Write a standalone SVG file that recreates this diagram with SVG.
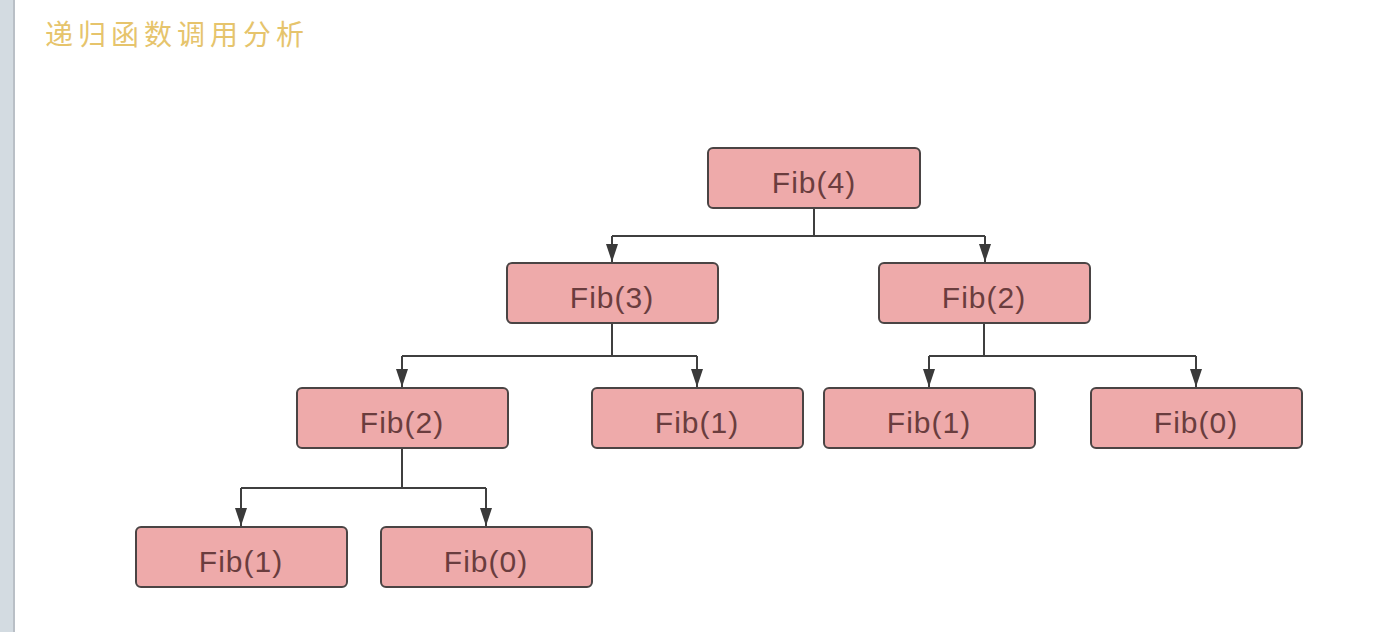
<svg xmlns="http://www.w3.org/2000/svg" width="1388" height="632" viewBox="0 0 1388 632">
<defs>
<marker id="arr" viewBox="0 0 18 12" refX="18" refY="6" markerWidth="18" markerHeight="12" markerUnits="userSpaceOnUse" orient="auto">
<path d="M0,0 L18,6 L0,12 Z" fill="#3a3a3a"/>
</marker>
</defs>
<style>
.box{fill:#eeaaaa;stroke:#4a4444;stroke-width:2}
.lbl{font-family:"Liberation Sans",Arial,sans-serif;font-size:30px;fill:#6a3d3e;text-anchor:middle;letter-spacing:1px}
.c{fill:none;stroke:#3f3f3f;stroke-width:2}
.title{font-family:"Noto Sans CJK SC",sans-serif;font-size:28px;fill:#e6c46c;letter-spacing:5px}
</style>
<rect width="1388" height="632" fill="#ffffff"/>
<rect x="0" y="0" width="14" height="632" fill="#d3dbe1"/>
<rect x="13" y="0" width="2" height="632" fill="#b9bfc6"/>
<text class="title" x="45" y="45">递归函数调用分析</text>
<g id="connectors">
<path class="c" d="M814,208 V236 M612,236 H985"/>
<path class="c" d="M612,236 V262" marker-end="url(#arr)"/>
<path class="c" d="M985,236 V262" marker-end="url(#arr)"/>
<path class="c" d="M612,323 V356 M402,356 H697"/>
<path class="c" d="M402,356 V387" marker-end="url(#arr)"/>
<path class="c" d="M697,356 V387" marker-end="url(#arr)"/>
<path class="c" d="M984,323 V356 M929,356 H1196"/>
<path class="c" d="M929,356 V387" marker-end="url(#arr)"/>
<path class="c" d="M1196,356 V387" marker-end="url(#arr)"/>
<path class="c" d="M402,448 V488 M241,488 H486"/>
<path class="c" d="M241,488 V526" marker-end="url(#arr)"/>
<path class="c" d="M486,488 V526" marker-end="url(#arr)"/>
</g>
<g id="fib4"><rect class="box" x="708" y="148" width="212" height="60" rx="5"/><text class="lbl" x="814" y="193">Fib(4)</text></g>
<g id="fib3"><rect class="box" x="507" y="263" width="211" height="60" rx="5"/><text class="lbl" x="612" y="308">Fib(3)</text></g>
<g id="fib2a"><rect class="box" x="879" y="263" width="211" height="60" rx="5"/><text class="lbl" x="984" y="308">Fib(2)</text></g>
<g id="fib2b"><rect class="box" x="297" y="388" width="211" height="60" rx="5"/><text class="lbl" x="402" y="433">Fib(2)</text></g>
<g id="fib1a"><rect class="box" x="592" y="388" width="211" height="60" rx="5"/><text class="lbl" x="697" y="433">Fib(1)</text></g>
<g id="fib1b"><rect class="box" x="824" y="388" width="211" height="60" rx="5"/><text class="lbl" x="929" y="433">Fib(1)</text></g>
<g id="fib0a"><rect class="box" x="1091" y="388" width="211" height="60" rx="5"/><text class="lbl" x="1196" y="433">Fib(0)</text></g>
<g id="fib1c"><rect class="box" x="136" y="527" width="211" height="60" rx="5"/><text class="lbl" x="241" y="572">Fib(1)</text></g>
<g id="fib0b"><rect class="box" x="381" y="527" width="211" height="60" rx="5"/><text class="lbl" x="486" y="572">Fib(0)</text></g>
</svg>
